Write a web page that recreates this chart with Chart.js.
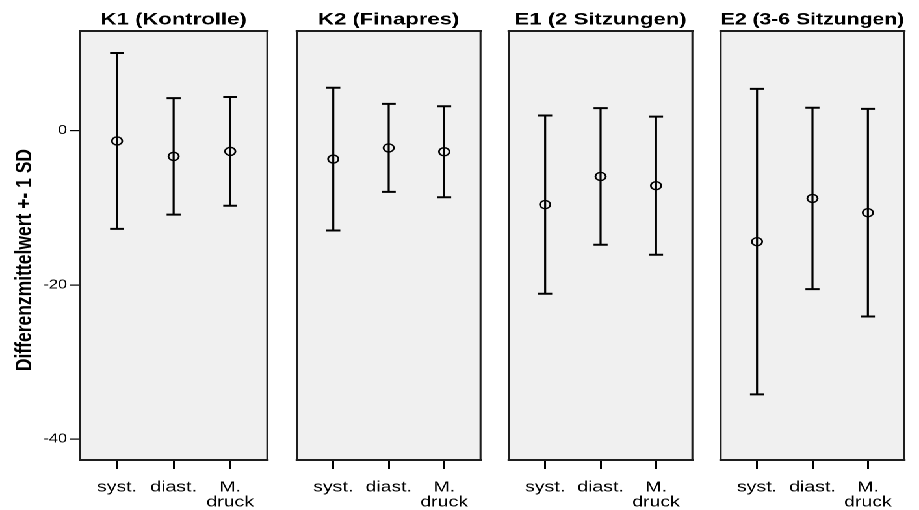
<!DOCTYPE html>
<html>
<head>
<meta charset="utf-8">
<script src="https://cdn.jsdelivr.net/npm/chart.js@4.4.1/dist/chart.umd.min.js"></script>
<style>
html, body { margin: 0; padding: 0; background: #fff; overflow: hidden; width: 919px; height: 510px; }
#wrap { position: absolute; left: 0; top: 0; width: 707px; height: 510px; transform: scaleX(1.3); transform-origin: 0 0; }
#wrap canvas { position: absolute; top: 0; }
</style>
</head>
<body>
<div id="wrap"></div>
<script>
// ---- data ----
const groupTitles = ['K1 (Kontrolle)', 'K2 (Finapres)', 'E1 (2 Sitzungen)', 'E2 (3-6 Sitzungen)'];
const categories = ['syst.', 'diast.', ['M.', 'druck']];
const meanK1 = [-1.35, -3.35, -2.7];
const sdK1   = [11.4, 7.55, 7.05];
const meanK2 = [-3.7, -2.25, -2.75];
const sdK2   = [9.25, 5.7, 5.9];
const meanE1 = [-9.6, -5.95, -7.15];
const sdE1   = [11.55, 8.85, 8.95];
const meanE2 = [-14.4, -8.8, -10.65];
const sdE2   = [19.8, 11.75, 13.45];
const yTicks = [-40, -20, 0];
const yAxisTitle = 'Differenzmittelwert +- 1 SD';

// ---- layout / style ----
const S = 1.3;
const PANEL_LEFT = [80, 292, 504, 716];
const PANEL_W = 192;
const PLOT_BOTTOM = 460, H = 510;
const X_MIN = -0.655, X_MAX = 2.655;
const Y_MIN = -42.7, Y_MAX = 12.9;
const FONT = "'Liberation Sans', Arial, Helvetica, sans-serif";

const groups = [
  { title: groupTitles[0], mean: meanK1, sd: sdK1 },
  { title: groupTitles[1], mean: meanK2, sd: sdK2 },
  { title: groupTitles[2], mean: meanE1, sd: sdE1 },
  { title: groupTitles[3], mean: meanE2, sd: sdE2 }
];

const panelDecor = {
  id: 'panelDecor',
  beforeDraw(chart) {
    const { ctx, chartArea: a } = chart;
    ctx.save();
    ctx.fillStyle = '#f0f0f0';
    ctx.fillRect(a.left, a.top, a.right - a.left, a.bottom - a.top);
    ctx.restore();
  },
  afterDraw(chart) {
    const { ctx, chartArea: a } = chart;
    ctx.save();
    ctx.strokeStyle = '#1e1e1e';
    ctx.lineCap = 'square';
    ctx.lineWidth = 2;
    ctx.beginPath();
    ctx.moveTo(a.left, a.top); ctx.lineTo(a.right, a.top);
    ctx.moveTo(a.left, a.bottom); ctx.lineTo(a.right, a.bottom);
    ctx.stroke();
    ctx.lineWidth = 2 / S;
    ctx.beginPath();
    ctx.moveTo(a.left, a.top); ctx.lineTo(a.left, a.bottom);
    ctx.moveTo(a.right, a.top); ctx.lineTo(a.right, a.bottom);
    ctx.stroke();
    ctx.restore();
  }
};

const wrap = document.getElementById('wrap');

groups.forEach((g, i) => {
  const L = PANEL_LEFT[i] / S;
  const W = PANEL_W / S;
  let cLeft, cWidth, padL, padR;
  if (i === 0) {
    cLeft = 0; cWidth = Math.ceil(L + W) + 3; padL = 0; padR = cWidth - (L + W);
  } else {
    cLeft = L - 4; cWidth = Math.ceil(W + 8); padL = 4; padR = cWidth - 4 - W;
  }
  const canvas = document.createElement('canvas');
  canvas.width = cWidth; canvas.height = H;
  canvas.style.left = cLeft + 'px';
  wrap.appendChild(canvas);

  const lo = g.mean.map((m, k) => m - g.sd[k]);
  const hi = g.mean.map((m, k) => m + g.sd[k]);

  new Chart(canvas, {
    type: 'bar',
    data: {
      datasets: [
        { type: 'line', data: g.mean.map((m, k) => ({ x: k, y: m })), showLine: false,
          pointStyle: 'circle', pointRadius: 4, pointBorderWidth: 1.4,
          pointBorderColor: '#000', pointBackgroundColor: 'rgba(0,0,0,0)' },
        { type: 'line', data: hi.map((v, k) => ({ x: k, y: v })), showLine: false,
          pointStyle: 'line', pointRadius: 5.4, pointBorderWidth: 2, pointBorderColor: '#000' },
        { type: 'line', data: lo.map((v, k) => ({ x: k, y: v })), showLine: false,
          pointStyle: 'line', pointRadius: 5.4, pointBorderWidth: 2, pointBorderColor: '#000' },
        { type: 'bar', data: g.mean.map((m, k) => ({ x: k, y: [lo[k], hi[k]] })),
          backgroundColor: '#000', borderWidth: 0, barThickness: 1.6, inflateAmount: 0 }
      ]
    },
    options: {
      responsive: false,
      animation: false,
      devicePixelRatio: 2,
      events: [],
      layout: { padding: { left: padL, right: padR, top: 0, bottom: 0 } },
      plugins: {
        legend: { display: false },
        tooltip: { enabled: false },
        title: {
          display: true, text: g.title, fullSize: false, color: '#000',
          font: { family: FONT, size: 17, weight: 'bold', lineHeight: 1.2 },
          padding: { top: 9.5, bottom: 1.1 }
        }
      },
      scales: {
        x: {
          type: 'linear', min: X_MIN, max: X_MAX, offset: false,
          afterBuildTicks: s => { s.ticks = categories.map((c, k) => ({ value: k })); },
          afterFit: s => { s.height = H - PLOT_BOTTOM; },
          ticks: { autoSkip: false, maxRotation: 0, minRotation: 0, padding: 11, color: '#000',
                   font: { family: FONT, size: 15, lineHeight: 1 },
                   callback: v => categories[v] },
          grid: { display: true, drawOnChartArea: false, drawTicks: true, tickLength: 9,
                  color: '#000', lineWidth: 1.5, offset: false },
          border: { display: false }
        },
        y: {
          type: 'linear', min: Y_MIN, max: Y_MAX, display: i === 0,
          afterBuildTicks: s => { s.ticks = yTicks.map(v => ({ value: v })); },
          afterFit: s => { if (i === 0) s.width = L; },
          ticks: { padding: 2, color: '#000', font: { family: FONT, size: 12.5 } },
          grid: { drawOnChartArea: false, drawTicks: true, tickLength: 8, color: '#000', lineWidth: 1.2 },
          border: { display: false },
          title: {
            display: true, text: yAxisTitle + '\u00a0'.repeat(6), color: '#000',
            font: { family: FONT, size: 17.5, weight: 'bold', lineHeight: 1.2 },
            padding: { top: 8.5, bottom: 0 }
          }
        }
      }
    },
    plugins: [panelDecor]
  });
});
</script>
</body>
</html>
